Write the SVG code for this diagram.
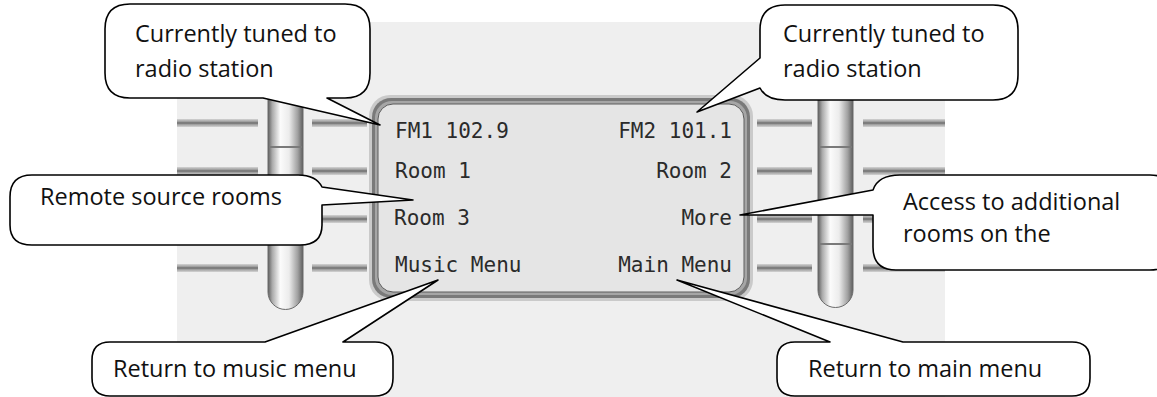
<svg xmlns="http://www.w3.org/2000/svg" width="1157" height="397" viewBox="0 0 1157 397">
<defs>
<linearGradient id="rod" x1="0" y1="0" x2="1" y2="0">
<stop offset="0" stop-color="#5e5e5e"/>
<stop offset="0.12" stop-color="#a9a9a9"/>
<stop offset="0.35" stop-color="#fbfbfb"/>
<stop offset="0.6" stop-color="#ececec"/>
<stop offset="0.85" stop-color="#a0a0a0"/>
<stop offset="1" stop-color="#5e5e5e"/>
</linearGradient>
<linearGradient id="bar" x1="0" y1="0" x2="0" y2="1">
<stop offset="0" stop-color="#d4d4d4"/>
<stop offset="0.35" stop-color="#9a9a9a"/>
<stop offset="0.5" stop-color="#6a6a6a"/>
<stop offset="0.65" stop-color="#9a9a9a"/>
<stop offset="1" stop-color="#d4d4d4"/>
</linearGradient>
</defs>
<style>
.callout{fill:#ffffff;stroke:#000000;stroke-width:1.6;stroke-linejoin:round}
.ct{font-family:"Open Sans","Liberation Sans",sans-serif;font-size:23.5px;fill:#111111}
.lcd{font-family:"DejaVu Sans Mono","Liberation Mono",monospace;font-size:21px;fill:#2b2b2b}
.bar{fill:url(#bar)}
.seg{stroke:#7a7a7a;stroke-width:2}
</style>
<rect width="1157" height="397" fill="#ffffff"/>
<rect id="panel" x="177" y="22" width="768" height="375" fill="#efefef"/>

<g id="bars">
<rect class="bar" x="177" y="119" width="81" height="8"/>
<rect class="bar" x="312" y="119" width="55" height="8"/>
<rect class="bar" x="177" y="167" width="81" height="8"/>
<rect class="bar" x="312" y="167" width="55" height="8"/>
<rect class="bar" x="177" y="215" width="81" height="8"/>
<rect class="bar" x="312" y="215" width="55" height="8"/>
<rect class="bar" x="177" y="264" width="81" height="8"/>
<rect class="bar" x="312" y="264" width="55" height="8"/>
<rect class="bar" x="757" y="119" width="55" height="8"/>
<rect class="bar" x="863" y="119" width="82" height="8"/>
<rect class="bar" x="757" y="167" width="55" height="8"/>
<rect class="bar" x="863" y="167" width="82" height="8"/>
<rect class="bar" x="757" y="215" width="55" height="8"/>
<rect class="bar" x="863" y="215" width="82" height="8"/>
<rect class="bar" x="757" y="264" width="55" height="8"/>
<rect class="bar" x="863" y="264" width="82" height="8"/>
</g>

<g id="rod-left">
<path d="M268,80 H303 V292 A17.5,17.5 0 0 1 268,292 Z" fill="url(#rod)" stroke="#6a6a6a" stroke-width="1"/>
<line class="seg" x1="269" y1="147" x2="302" y2="147"/>
</g>
<g id="rod-right">
<path d="M818,80 H853 V290 A17.5,17.5 0 0 1 818,290 Z" fill="url(#rod)" stroke="#6a6a6a" stroke-width="1"/>
<line class="seg" x1="819" y1="147" x2="852" y2="147"/>
<line class="seg" x1="819" y1="244" x2="852" y2="244"/>
</g>

<g id="screen">
<rect x="369" y="95" width="384" height="206" rx="21" fill="#cacaca"/>
<rect x="372" y="98" width="378" height="200" rx="19" fill="#7a7a7a"/>
<rect x="375" y="101" width="372" height="194" rx="17" fill="#a6a6a6"/>
<rect x="378" y="104" width="366" height="188" rx="15" fill="#e5e5e5" stroke="#5c5c5c" stroke-width="1"/>
<text class="lcd" x="395" y="138">FM1 102.9</text>
<text class="lcd" x="732" y="138" text-anchor="end">FM2 101.1</text>
<text class="lcd" x="395" y="178">Room 1</text>
<text class="lcd" x="732" y="178" text-anchor="end">Room 2</text>
<text class="lcd" x="394" y="225">Room 3</text>
<text class="lcd" x="732" y="225" text-anchor="end">More</text>
<text class="lcd" x="395" y="272">Music Menu</text>
<text class="lcd" x="732" y="272" text-anchor="end">Main Menu</text>
</g>

<g id="callout-tuned-left">
<path class="callout" d="M130,4 H345 Q370,4 370,29 V73 Q370,98 345,98 H327 L380,125 L263,98 H130 Q105,98 105,73 V29 Q105,4 130,4 Z"/>
<text class="ct" x="135" y="42">Currently tuned to</text>
<text class="ct" x="135" y="77">radio station</text>
</g>

<g id="callout-tuned-right">
<path class="callout" d="M785,5 H993 Q1018,5 1018,30 V75 Q1018,100 993,100 H785 Q766,100 760,88 L697,112 L760,58 V30 Q760,5 785,5 Z"/>
<text class="ct" x="783" y="42">Currently tuned to</text>
<text class="ct" x="783" y="77">radio station</text>
</g>

<g id="callout-remote">
<path class="callout" d="M32,175 H298 Q316,175 322,187 L413,200 L322,205 V225 Q322,245 300,245 H32 Q10,245 10,225 V197 Q10,175 32,175 Z"/>
<text class="ct" x="40" y="205">Remote source rooms</text>
</g>

<g id="callout-more">
<path class="callout" d="M900,175 H1150 Q1175,175 1175,200 V245 Q1175,270 1150,270 H896 Q873,270 873,247 V215 L740,215 L873,190 Q878,175 900,175 Z"/>
<text class="ct" x="903" y="210">Access to additional</text>
<text class="ct" x="903" y="242">rooms on the</text>
</g>

<g id="callout-music">
<path class="callout" d="M110,342 H265 L438,280 L343,342 H375 Q393,342 393,360 V378 Q393,396 375,396 H110 Q92,396 92,378 V360 Q92,342 110,342 Z"/>
<text class="ct" x="113" y="377">Return to music menu</text>
</g>

<g id="callout-main">
<path class="callout" d="M795,342 H830 L677,280 L903,342 H1072 Q1090,342 1090,360 V378 Q1090,396 1072,396 H795 Q777,396 777,378 V360 Q777,342 795,342 Z"/>
<text class="ct" x="808" y="377">Return to main menu</text>
</g>
</svg>
